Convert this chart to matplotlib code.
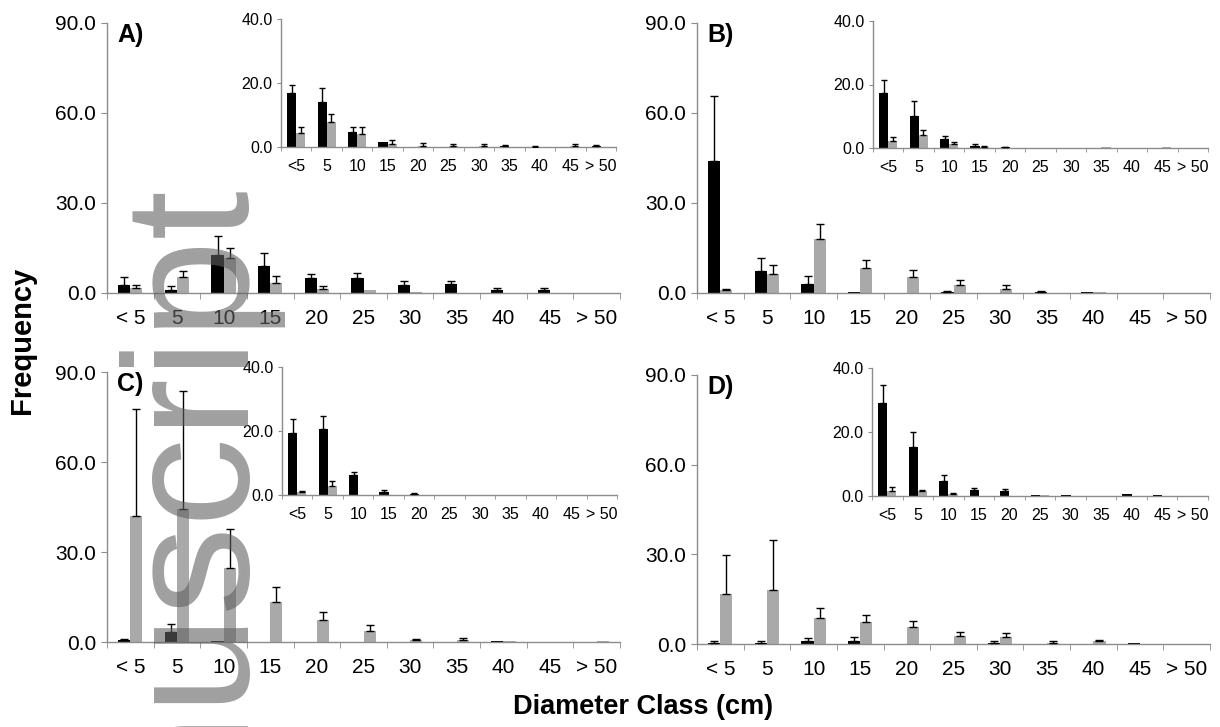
import numpy as np
import matplotlib
matplotlib.use("Agg")
import matplotlib.pyplot as plt

plt.rcParams['font.family'] = ['Liberation Sans', 'DejaVu Sans']

main_labels = ["< 5", "5", "10", "15", "20", "25", "30", "35", "40", "45", "> 50"]
inset_labels = ["<5", "5", "10", "15", "20", "25", "30", "35", "40", "45", "> 50"]

# panel A
a_black = [2.6, 1.1, 12.8, 9.1, 5.0, 5.0, 2.8, 3.0, 1.0, 1.0, 0]
a_black_sd = [2.6, 1.3, 6.3, 4.2, 1.3, 1.7, 1.1, 1.1, 0.6, 0.6, 0]
a_gray = [1.7, 5.3, 11.7, 3.3, 1.3, 1.0, 0.2, 0, 0, 0, 0]
a_gray_sd = [1.1, 2.1, 3.3, 2.3, 1.1, 0, 0, 0, 0, 0, 0]
a_in_black = [16.9, 14.0, 4.6, 1.7, 0, 0, 0, 0.3, 0.1, 0, 0.4]
a_in_black_sd = [2.6, 4.5, 1.5, 0, 0, 0, 0, 0.2, 0.2, 0, 0.1]
a_in_gray = [4.5, 7.9, 4.0, 0.9, 0.4, 0.2, 0.2, 0, 0, 0.2, 0]
a_in_gray_sd = [1.9, 2.5, 2.4, 1.2, 0.8, 0.6, 0.6, 0, 0, 0.6, 0]

# panel B
b_black = [43.9, 7.3, 2.9, 0.2, 0, 0.3, 0, 0.2, 0.2, 0, 0]
b_black_sd = [21.7, 4.4, 2.8, 0, 0, 0.5, 0, 0.3, 0, 0, 0]
b_gray = [0.9, 6.2, 18.1, 8.3, 5.3, 2.6, 1.4, 0, 0.2, 0, 0.1]
b_gray_sd = [0.5, 3.0, 5.0, 2.6, 2.5, 1.8, 1.4, 0, 0, 0, 0]
b_in_black = [17.4, 10.1, 2.9, 0.7, 0.3, 0, 0, 0, 0, 0, 0]
b_in_black_sd = [4.1, 4.6, 0.85, 0.55, 0.1, 0, 0, 0, 0, 0, 0]
b_in_gray = [2.2, 4.1, 1.25, 0.4, 0, 0, 0, 0.2, 0, 0.3, 0]
b_in_gray_sd = [1.3, 1.7, 0.55, 0.2, 0, 0, 0, 0, 0, 0, 0]

# panel C
c_black = [0.55, 3.2, 0.2, 0, 0, 0, 0, 0, 0.3, 0, 0]
c_black_sd = [0.45, 2.9, 0, 0, 0, 0, 0, 0, 0, 0, 0]
c_gray = [42.1, 44.3, 24.6, 13.2, 7.4, 3.8, 0.6, 0.7, 0.2, 0, 0.2]
c_gray_sd = [35.5, 39.3, 13.0, 5.0, 2.5, 2.0, 0.3, 0.6, 0, 0, 0]
c_in_black = [19.4, 20.5, 6.3, 1.05, 0.4, 0, 0, 0, 0, 0, 0]
c_in_black_sd = [4.3, 4.2, 0.8, 0.65, 0.1, 0, 0, 0, 0, 0, 0]
c_in_gray = [0.8, 2.9, 0, 0, 0, 0, 0, 0, 0, 0, 0]
c_in_gray_sd = [0.35, 1.4, 0, 0, 0, 0, 0, 0, 0, 0, 0]

# panel D
d_black = [0.3, 0.3, 0.9, 0.9, 0, 0, 0.3, 0, 0, 0.2, 0]
d_black_sd = [0.6, 0.6, 1.1, 1.4, 0, 0, 0.6, 0, 0, 0, 0]
d_gray = [16.7, 18.2, 8.8, 7.3, 5.7, 2.6, 2.3, 0.3, 0.9, 0, 0.1]
d_gray_sd = [13.0, 16.7, 3.4, 2.4, 1.9, 1.4, 1.3, 0.7, 0.5, 0, 0]
d_in_black = [29.0, 15.2, 4.7, 1.9, 1.6, 0.4, 0.2, 0, 0.5, 0.2, 0]
d_in_black_sd = [5.8, 4.7, 1.8, 0.7, 0.7, 0, 0, 0, 0, 0, 0]
d_in_gray = [1.5, 1.6, 0.7, 0, 0, 0.3, 0, 0, 0, 0, 0]
d_in_gray_sd = [1.3, 0.2, 0.2, 0, 0, 0, 0, 0, 0, 0, 0]

BLACK = "#000000"
GRAY = "#a9a9a9"
AXCOL = "#8c8c8c"


def bars(ax, black, black_sd, gray, gray_sd, labels, width, ymax, yticks,
         fs, capsize, family):
    x = np.arange(len(labels)) + 0.5
    for vals, sd, col, off in [(black, black_sd, BLACK, -width / 2),
                               (gray, gray_sd, GRAY, width / 2)]:
        vals = np.array(vals, dtype=float)
        sd = np.array(sd, dtype=float)
        ax.bar(x + off, vals, width, color=col, zorder=2)
        m = sd > 0
        ax.errorbar(x[m] + off, vals[m], yerr=[np.zeros(m.sum()), sd[m]],
                    fmt="none", ecolor="black", elinewidth=1, capsize=capsize,
                    capthick=1, zorder=3)
    ax.set_xlim(0, len(labels))
    ax.set_ylim(0, ymax)
    ax.set_yticks(yticks)
    ax.set_yticklabels([f"{v:.1f}" for v in yticks], fontsize=fs, family=family)
    ax.set_xticks(x)
    ax.set_xticklabels(labels, fontsize=fs, family=family)
    ax.set_xticks(np.arange(len(labels) + 1), minor=True)
    ax.tick_params(axis="x", which="major", length=0, pad=fs * 0.75)
    ax.tick_params(axis="x", which="minor", length=4, color=AXCOL, direction="out")
    ax.tick_params(axis="y", length=4, color=AXCOL, pad=4)
    for s in ["top", "right"]:
        ax.spines[s].set_visible(False)
    for s in ["left", "bottom"]:
        ax.spines[s].set_color(AXCOL)
        ax.spines[s].set_linewidth(1)
    ax.patch.set_visible(False)


fig = plt.figure(figsize=(12.2, 7.27), dpi=100)
W, H = 1220, 727


def px_axes(left, top, right, bottom):
    return fig.add_axes([left / W, 1 - bottom / H, (right - left) / W, (bottom - top) / H])


panels = [
    ("A)", (107, 23, 620, 293), (281, 19, 616, 147),
     a_black, a_black_sd, a_gray, a_gray_sd,
     a_in_black, a_in_black_sd, a_in_gray, a_in_gray_sd),
    ("B)", (697, 23, 1210, 293), (873, 21, 1208, 148),
     b_black, b_black_sd, b_gray, b_gray_sd,
     b_in_black, b_in_black_sd, b_in_gray, b_in_gray_sd),
    ("C)", (107, 372, 620, 642), (282, 367, 617, 495),
     c_black, c_black_sd, c_gray, c_gray_sd,
     c_in_black, c_in_black_sd, c_in_gray, c_in_gray_sd),
    ("D)", (697, 375, 1210, 644), (872, 368, 1208, 496),
     d_black, d_black_sd, d_gray, d_gray_sd,
     d_in_black, d_in_black_sd, d_in_gray, d_in_gray_sd),
]

narrow = ["Liberation Sans Narrow", "Liberation Sans", "DejaVu Sans"]

for (tag, mrect, irect, mb, mbs, mg, mgs, ib, ibs, ig, igs) in panels:
    ax = px_axes(*mrect)
    bars(ax, mb, mbs, mg, mgs, main_labels, 0.26, 90, [0, 30, 60, 90],
         15, 3, ["Liberation Sans", "DejaVu Sans"])
    ax.text(0.02, 1.0, tag, transform=ax.transAxes, fontsize=18,
            fontweight="bold", va="top", ha="left")
    ins = px_axes(*irect)
    bars(ins, ib, ibs, ig, igs, inset_labels, 0.3, 40, [0, 20, 40],
         11.5, 2, narrow)
    ins.tick_params(axis="x", which="minor", length=3)
    ins.tick_params(axis="y", length=3, pad=3)

fig.text(22 / W, 1 - 340 / H, "Frequency", rotation=90, fontsize=21,
         fontweight="bold", ha="center", va="center")
fig.text(643 / W, 1 - 707 / H, "Diameter Class (cm)", fontsize=19.5,
         fontweight="bold", ha="center", va="center")

# watermark
fig.text(249 / W, 1 - 190 / H, "Accepted Manuscript", rotation=90,
         rotation_mode="anchor", ha="right", va="baseline", fontsize=128,
         color="#606060", alpha=0.6, zorder=10)

fig.savefig("out.png", dpi=100)
